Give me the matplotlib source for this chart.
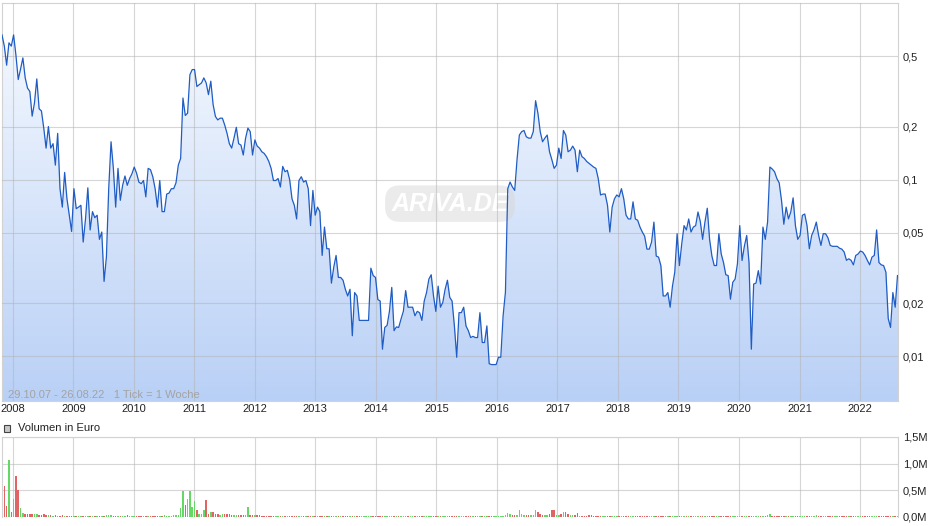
import matplotlib.pyplot as plt
import matplotlib.dates as mdates
import numpy as np
import pandas as pd
from matplotlib.colors import LinearSegmentedColormap
from matplotlib.patches import Rectangle
from matplotlib.ticker import NullLocator

plt.rcParams['font.family'] = ['Liberation Sans', 'DejaVu Sans']

# Kurs in Euro, alle 14 Tage ab 29.10.2007
kurs = [
    0.66, 0.57, 0.445, 0.595, 0.57, 0.66, 0.507, 0.369, 0.423, 0.489,
    0.377, 0.33, 0.316, 0.229, 0.272, 0.372, 0.252, 0.245, 0.196, 0.151,
    0.20, 0.151, 0.16, 0.121, 0.183, 0.089, 0.07, 0.11, 0.078, 0.063,
    0.051, 0.089, 0.0686, 0.07, 0.0717, 0.0444, 0.06, 0.09, 0.052, 0.066,
    0.061, 0.063, 0.046, 0.0506, 0.0266, 0.0365, 0.089, 0.164, 0.116, 0.07,
    0.116, 0.0765, 0.093, 0.105, 0.093, 0.1016, 0.108, 0.118, 0.109, 0.097,
    0.095, 0.099, 0.08, 0.116, 0.114, 0.104, 0.089, 0.07, 0.099, 0.066,
    0.066, 0.083, 0.084, 0.089, 0.089, 0.096, 0.121, 0.132, 0.29, 0.231,
    0.238, 0.393, 0.42, 0.42, 0.337, 0.345, 0.353, 0.377, 0.353, 0.303,
    0.361, 0.266, 0.228, 0.218, 0.223, 0.223, 0.204, 0.183, 0.16, 0.151,
    0.172, 0.198, 0.16, 0.157, 0.138, 0.172, 0.196, 0.187, 0.138, 0.168,
    0.155, 0.151, 0.144, 0.141, 0.135, 0.127, 0.116, 0.099, 0.099, 0.1016,
    0.091, 0.119, 0.111, 0.113, 0.10, 0.078, 0.0717, 0.06, 0.099, 0.104,
    0.097, 0.099, 0.089, 0.055, 0.087, 0.063, 0.07, 0.066, 0.0373, 0.054,
    0.0407, 0.0407, 0.026, 0.032, 0.0373, 0.028, 0.028, 0.027, 0.024, 0.022,
    0.024, 0.0131, 0.023, 0.022, 0.016, 0.016, 0.016, 0.016, 0.016, 0.0316,
    0.0287, 0.028, 0.021, 0.0206, 0.011, 0.0146, 0.015, 0.018, 0.0246, 0.014,
    0.0147, 0.0146, 0.0163, 0.018, 0.0236, 0.019, 0.019, 0.019, 0.017, 0.018,
    0.0177, 0.016, 0.0206, 0.023, 0.0274, 0.029, 0.022, 0.018, 0.025, 0.019,
    0.0202, 0.024, 0.027, 0.0216, 0.0206, 0.0149, 0.0099, 0.0177, 0.0177, 0.019,
    0.0149, 0.014, 0.0128, 0.013, 0.0128, 0.0128, 0.0177, 0.012, 0.012, 0.0149,
    0.0091, 0.009, 0.009, 0.009, 0.0099, 0.0099, 0.017, 0.0231, 0.089, 0.097,
    0.091, 0.087, 0.13, 0.179, 0.187, 0.19, 0.175, 0.172, 0.172, 0.187,
    0.28, 0.238, 0.187, 0.164, 0.172, 0.179, 0.144, 0.13, 0.116, 0.121,
    0.151, 0.132, 0.19, 0.179, 0.144, 0.147, 0.155, 0.147, 0.111, 0.147,
    0.135, 0.132, 0.127, 0.124, 0.121, 0.118, 0.116, 0.1016, 0.082, 0.083,
    0.083, 0.0717, 0.0506, 0.07, 0.078, 0.082, 0.08, 0.089, 0.078, 0.063,
    0.06, 0.06, 0.075, 0.06, 0.059, 0.054, 0.0506, 0.048, 0.0405, 0.0405,
    0.0444, 0.0576, 0.037, 0.0365, 0.0327, 0.022, 0.022, 0.023, 0.019, 0.025,
    0.03, 0.0495, 0.0327, 0.0434, 0.055, 0.052, 0.060, 0.0506, 0.054, 0.055,
    0.0657, 0.058, 0.046, 0.0576, 0.069, 0.046, 0.037, 0.0327, 0.0327, 0.0495,
    0.0381, 0.034, 0.029, 0.0287, 0.0211, 0.0263, 0.0274, 0.0334, 0.055, 0.0349,
    0.0421, 0.0484, 0.034, 0.011, 0.0257, 0.026, 0.0306, 0.0257, 0.054, 0.046,
    0.0576, 0.118, 0.115, 0.111, 0.1016, 0.096, 0.0765, 0.056, 0.07, 0.06,
    0.0657, 0.079, 0.055, 0.046, 0.0484, 0.0629, 0.064, 0.055, 0.0407, 0.0484,
    0.052, 0.0576, 0.0484, 0.0425, 0.0495, 0.0495, 0.047, 0.0425, 0.042, 0.042,
    0.042, 0.041, 0.0405, 0.039, 0.035, 0.0357, 0.035, 0.033, 0.0373, 0.038,
    0.0395, 0.039, 0.0373, 0.035, 0.033, 0.0365, 0.0373, 0.052, 0.034, 0.033,
    0.0327, 0.030, 0.0164, 0.0146, 0.023, 0.019, 0.0287,
]

# Umsatz in Mio. Euro, gleiche Termine
volumen = [
    0.67, 0.59, 0.20, 1.06, 0.10, 0.34, 0.76, 0.50, 0.17, 0.08,
    0.06, 0.05, 0.06, 0.05, 0.05, 0.06, 0.03, 0.04, 0.06, 0.04,
    0.04, 0.03, 0.02, 0.03, 0.02, 0.02, 0.03, 0.02, 0.02, 0.02,
    0.02, 0.02, 0.02, 0.02, 0.02, 0.02, 0.02, 0.02, 0.02, 0.02,
    0.02, 0.02, 0.02, 0.02, 0.02, 0.03, 0.04, 0.03, 0.02, 0.02,
    0.02, 0.02, 0.02, 0.02, 0.03, 0.02, 0.02, 0.02, 0.02, 0.02,
    0.02, 0.02, 0.02, 0.02, 0.02, 0.02, 0.02, 0.02, 0.02, 0.02,
    0.03, 0.02, 0.02, 0.02, 0.03, 0.03, 0.04, 0.16, 0.48, 0.22,
    0.34, 0.48, 0.19, 0.30, 0.13, 0.06, 0.05, 0.13, 0.31, 0.06,
    0.10, 0.10, 0.06, 0.05, 0.04, 0.06, 0.05, 0.05, 0.05, 0.04,
    0.04, 0.03, 0.04, 0.03, 0.03, 0.04, 0.18, 0.03, 0.03, 0.04,
    0.03, 0.03, 0.02, 0.02, 0.02, 0.02, 0.02, 0.02, 0.02, 0.02,
    0.02,
    0.02, 0.02, 0.01, 0.02, 0.02, 0.01, 0.02, 0.01, 0.02, 0.02,
    0.01, 0.02, 0.02, 0.01, 0.02, 0.01, 0.01, 0.02, 0.01, 0.02,
    0.02, 0.01, 0.01, 0.02, 0.01, 0.02, 0.01, 0.01, 0.02, 0.01,
    0.01, 0.02, 0.01, 0.01, 0.02, 0.01, 0.01, 0.01, 0.02, 0.01,
    0.01, 0.01, 0.02, 0.01, 0.01, 0.01, 0.02, 0.01, 0.01, 0.01,
    0.01, 0.02, 0.01, 0.01, 0.01, 0.01, 0.02, 0.01, 0.01, 0.01,
    0.01, 0.01, 0.01, 0.02, 0.01, 0.01, 0.01, 0.01, 0.01, 0.02,
    0.01, 0.01, 0.01, 0.01, 0.02, 0.01, 0.01, 0.01, 0.01, 0.01,
    0.02, 0.01, 0.01, 0.01, 0.01, 0.01, 0.02, 0.01, 0.01, 0.01,
    0.02, 0.01, 0.01, 0.02, 0.01, 0.02,
    0.04, 0.07, 0.05, 0.03, 0.03, 0.04, 0.125, 0.06, 0.03, 0.03,
    0.04, 0.03, 0.04, 0.125, 0.10, 0.06, 0.04, 0.03, 0.03, 0.05,
    0.14, 0.14, 0.04, 0.04, 0.06, 0.10, 0.10, 0.05, 0.03, 0.03,
    0.03, 0.08, 0.02, 0.02, 0.02, 0.02, 0.03, 0.04, 0.02,
    0.02, 0.02, 0.01, 0.02, 0.01, 0.02, 0.01, 0.02, 0.01, 0.01,
    0.02, 0.01, 0.01, 0.02, 0.01, 0.01, 0.01, 0.02, 0.01, 0.01,
    0.01, 0.01, 0.02, 0.01, 0.01, 0.01, 0.01, 0.01, 0.02, 0.01,
    0.01, 0.01, 0.01, 0.01, 0.02, 0.01, 0.01, 0.01, 0.01, 0.01,
    0.01, 0.02, 0.01, 0.01, 0.01, 0.01, 0.01, 0.01, 0.02, 0.01,
    0.01, 0.01, 0.01, 0.01, 0.01, 0.02, 0.01, 0.01, 0.01, 0.01,
    0.01, 0.01, 0.02, 0.01, 0.01, 0.01, 0.01, 0.01, 0.01, 0.01,
    0.01, 0.01, 0.01, 0.02, 0.03, 0.05, 0.02, 0.01, 0.01, 0.01,
    0.01, 0.01, 0.01, 0.01, 0.01, 0.01, 0.01, 0.01, 0.01, 0.01,
    0.01, 0.01, 0.01, 0.01, 0.01, 0.03, 0.01, 0.01, 0.01, 0.01,
    0.01, 0.01, 0.01, 0.01, 0.01, 0.01, 0.01, 0.01, 0.01, 0.01,
    0.01, 0.01, 0.01, 0.01, 0.01, 0.01, 0.01, 0.01, 0.01, 0.01,
    0.01, 0.01, 0.01, 0.01, 0.01, 0.01, 0.01, 0.01, 0.01, 0.01,
    0.01,
]

kurs_ticks = [0.01, 0.02, 0.05, 0.1, 0.2, 0.5]
kurs_labels = ["0,01", "0,02", "0,05", "0,1", "0,2", "0,5"]
vol_ticks = [0, 0.5, 1.0, 1.5]
vol_labels = ["0,0M", "0,5M", "1,0M", "1,5M"]
jahre = list(range(2008, 2023))

n = min(len(kurs), len(volumen))
kurs = kurs[:n]
volumen = volumen[:n]
datum = pd.date_range("2007-10-29", periods=n, freq="14D")
jahr_ticks = [pd.Timestamp(f"{j}-01-01") for j in jahre]
x_links = datum[0]
x_rechts = datum[-1] + pd.Timedelta(days=3)

W, H = 940, 526
fig = plt.figure(figsize=(W / 100, H / 100), dpi=100)
pos = [2 / W, 1 - 401 / H, 896 / W, 398 / H]
gitter = dict(color="#b5b5b5", alpha=0.55, lw=0.8)
rand = "#d2d2d2"

# Hintergrund mit Farbverlauf
bg = fig.add_axes(pos, zorder=0)
grad = np.linspace(0, 1, 256).reshape(-1, 1)
blau = LinearSegmentedColormap.from_list("blau", ["#f8fbff", "#b9d0f6"])
bg.imshow(grad, aspect="auto", extent=[0, 1, 0, 1], cmap=blau)
bg.axis("off")

# Kurs
ax = fig.add_axes(pos, zorder=1)
ax.patch.set_alpha(0)
ax.set_yscale("log")
ax.fill_between(datum, kurs, 2, color="white", lw=0, zorder=1)
ax.plot(datum, kurs, color="#1f5cc4", lw=0.9, zorder=3)
ax.set_xlim(x_links, x_rechts)
ax.set_ylim(0.0056, 1.0)
ax.set_yticks(kurs_ticks)
ax.set_yticklabels(kurs_labels)
ax.yaxis.set_minor_locator(NullLocator())
ax.yaxis.tick_right()
ax.set_xticks(jahr_ticks)
ax.set_xticklabels([str(j) for j in jahre])
ax.tick_params(length=0, labelsize=8, colors="#222222")
ax.tick_params(axis="y", pad=3.6)
ax.tick_params(axis="x", pad=2)
ax.grid(True, **gitter)
ax.set_axisbelow(False)
for s in ax.spines.values():
    s.set_color(rand)
    s.set_linewidth(0.8)

ax.text(0.5, 0.496, "ARIVA.DE", transform=ax.transAxes, ha="center", va="center",
        fontsize=18, fontweight="bold", style="italic", color="white", zorder=2,
        bbox=dict(boxstyle="round,pad=0.25,rounding_size=0.6", fc="#d8d8d8", ec="none", alpha=0.5))
ax.text(6 / 896, 6 / 398, "29.10.07 - 26.08.22   1 Tick = 1 Woche", transform=ax.transAxes,
        ha="left", va="center", fontsize=8, color="#a3a3a3", zorder=4)

# Volumen
ax2 = fig.add_axes([2 / W, 1 - 517 / H, 896 / W, 80 / H])
farben = ["#64d864"] + ["#64d864" if kurs[i] >= kurs[i - 1] else "#e06464" for i in range(1, n)]
ax2.bar(datum, volumen, width=9, color=farben, lw=0)
ax2.set_xlim(x_links, x_rechts)
ax2.set_ylim(0, 1.5)
ax2.set_yticks(vol_ticks)
ax2.set_yticklabels(vol_labels)
ax2.yaxis.tick_right()
ax2.set_xticks(jahr_ticks)
ax2.set_xticklabels([])
ax2.tick_params(length=0, labelsize=8, colors="#222222")
ax2.tick_params(axis="y", pad=3.6)
ax2.grid(True, **gitter)
ax2.set_axisbelow(True)
for s in ax2.spines.values():
    s.set_color(rand)
    s.set_linewidth(0.8)
ax2.spines["bottom"].set_visible(False)

fig.patches.append(Rectangle((3.5 / W, 1 - 431.5 / H), 6.5 / W, 6.5 / H, transform=fig.transFigure,
                             fc="#c8c8c8", ec="#444444", lw=0.8))
fig.text(18 / W, 1 - 428 / H, "Volumen in Euro", va="center", ha="left", fontsize=8, color="#222222")

fig.savefig("out.png", dpi=100)
